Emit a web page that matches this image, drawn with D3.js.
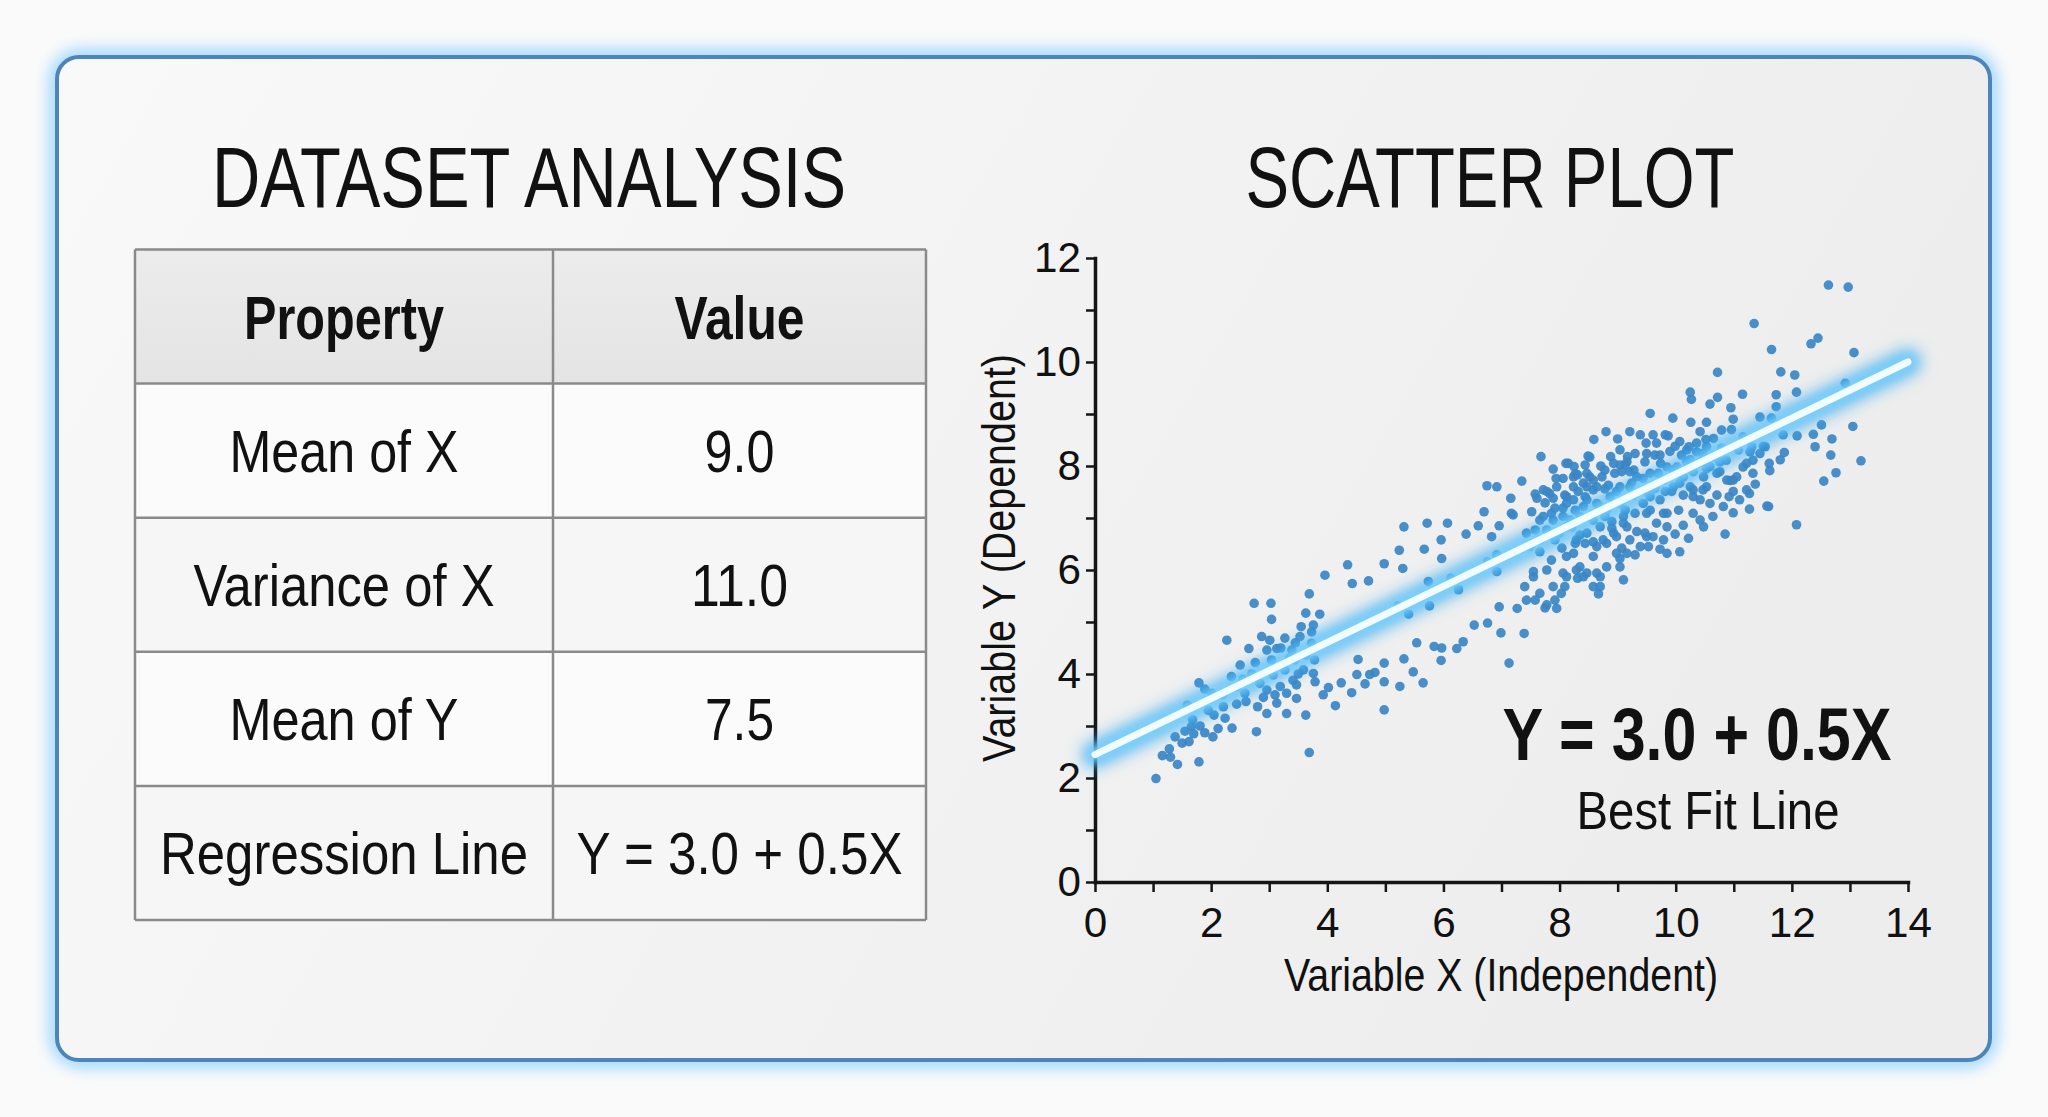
<!DOCTYPE html>
<html>
<head>
<meta charset="utf-8">
<script src="https://cdn.jsdelivr.net/npm/d3@7/dist/d3.min.js"></script>
<style>
  body { margin: 0; background: #fafafa; }
  svg { display: block; }
</style>
</head>
<body>
<div id="chart"></div>
<script>
// table content
var tableHeader = ["Property", "Value"];
var tableProps = ["Mean of X", "Variance of X", "Mean of Y", "Regression Line"];
var tableValues = ["9.0", "11.0", "7.5", "Y = 3.0 + 0.5X"];

// axis ticks
var xTickLabels = [0, 2, 4, 6, 8, 10, 12, 14];
var yTickLabels = [0, 2, 4, 6, 8, 10, 12];

// best fit line as drawn (x, y at both ends)
var fitLine = [[0, 2.45], [14, 10.0]];
var equationText = "Y = 3.0 + 0.5X";
var fitLabel = "Best Fit Line";

// scatter points [x, y]
var points = [
  [1.05,1.99],[1.16,2.43],[1.28,2.56],[1.42,2.26],[1.38,2.79],[1.50,2.67],[1.79,2.31],[1.68,3.12],[1.59,3.40],[1.79,3.83],
  [1.89,3.71],[1.66,2.99],[1.81,3.00],[1.89,2.87],[2.03,2.79],[2.05,3.21],[2.01,3.63],[2.21,3.37],[2.24,3.15],[2.36,2.96],
  [2.27,4.65],[2.35,3.95],[2.44,3.42],[2.50,4.17],[2.58,3.63],[2.60,3.47],[2.65,4.49],[2.76,4.22],[2.74,5.36],[2.78,2.89],
  [2.80,3.37],[2.84,3.82],[2.87,4.72],[2.96,4.46],[2.96,3.24],[2.96,3.69],[3.03,5.36],[3.04,5.05],[3.01,4.65],[3.04,4.27],
  [3.07,3.98],[3.13,3.44],[3.13,4.49],[3.19,3.76],[3.27,4.69],[3.27,4.08],[3.30,3.63],[3.30,3.24],[3.39,4.46],[3.41,3.88],
  [3.44,4.27],[3.47,3.53],[3.47,3.79],[3.53,4.72],[3.55,4.91],[3.59,4.08],[3.63,5.17],[3.63,3.21],[3.63,4.36],[3.69,5.54],
  [3.69,2.49],[3.73,4.59],[3.73,4.81],[3.76,4.94],[3.76,4.01],[3.79,3.85],[3.87,5.15],[3.78,4.27],[3.96,5.90],[3.93,3.60],
  [4.02,3.74],[4.14,3.39],[4.24,3.83],[4.35,6.10],[4.43,5.74],[4.42,3.64],[4.53,4.28],[4.51,3.99],[4.65,3.81],[4.71,5.79],
  [4.82,4.03],[4.98,6.12],[4.98,4.21],[4.98,3.85],[4.98,3.31],[2.55,3.90],[2.70,4.00],[3.35,4.30],[3.20,4.50],[3.50,4.00],
  [3.45,4.60],[3.65,4.40],[3.10,3.60],[2.45,3.75],[2.20,3.60],[1.95,3.30],[1.70,2.85],[1.55,2.90],[2.90,3.55],[1.62,2.70],
  [2.12,2.95],[1.30,2.40],[4.73,3.99],
  [5.32,6.83],[5.24,6.38],[5.30,6.03],[5.72,6.90],[5.67,6.40],[5.74,5.78],[5.76,5.31],[5.40,5.15],[5.22,5.31],[5.96,6.58],
  [5.97,6.22],[6.07,6.90],[6.13,5.84],[6.26,5.62],[6.39,6.69],[6.60,6.85],[6.70,7.12],[6.75,7.62],[6.92,7.60],[6.83,6.64],
  [6.92,6.29],[6.92,5.97],[6.76,6.16],[6.96,6.85],[7.16,7.38],[7.20,7.06],[7.35,7.71],[6.96,5.29],[6.53,4.94],[6.76,4.98],
  [6.99,4.79],[7.39,4.78],[7.13,4.21],[7.27,5.26],[5.54,4.60],[5.84,4.53],[5.96,4.26],[6.23,4.49],[6.34,4.62],[5.32,4.29],
  [5.48,4.04],[5.65,3.83],[5.25,3.76],[5.97,4.50],
  [10.72,9.80],[10.25,9.42],[10.27,9.28],[11.15,9.38],[10.72,9.32],[10.59,9.19],[10.95,9.12],[9.56,9.01],[9.95,8.92],[10.26,8.84],
  [10.53,8.84],[10.99,8.90],[10.79,8.69],[11.45,8.94],[8.80,8.66],[9.21,8.66],[8.59,8.51],[9.00,8.52],[9.39,8.60],[9.61,8.60],
  [9.87,8.58],[10.42,8.66],[10.65,8.53],[11.16,8.56],[7.68,8.18],[7.89,7.94],[8.15,8.05],[8.52,8.17],[8.71,8.00],[8.88,8.18],
  [9.04,8.31],[9.30,8.24],[9.49,8.44],[9.67,8.44],[9.73,8.21],[9.99,8.38],[10.19,8.31],[10.36,8.44],[10.79,8.34],[11.28,8.27],
  [11.51,8.38],[7.58,7.46],[7.75,7.29],[7.95,7.60],[8.06,7.76],[8.24,7.79],[8.47,7.86],[8.73,7.79],[8.64,7.60],[8.95,7.86],
  [9.04,8.02],[9.21,7.89],[9.33,7.79],[9.47,8.08],[9.70,7.86],[9.85,7.98],[10.02,7.98],[10.19,8.08],[10.30,7.89],[10.53,7.95],
  [10.76,7.89],[10.99,7.73],[10.99,7.51],[10.92,7.41],[10.71,7.44],[10.47,7.54],[10.25,7.60],[10.07,7.67],[9.93,7.51],[9.64,7.57],
  [11.37,7.65],[11.27,7.17],[11.57,7.23],[10.99,7.10],[10.59,7.28],[10.30,7.41],[7.52,7.12],[7.66,6.96],[7.86,7.09],[8.06,7.19],
  [8.24,7.35],[8.44,7.41],[8.41,7.22],[8.64,7.28],[8.87,7.41],[9.04,7.28],[9.27,7.44],[9.44,7.28],[7.43,6.71],[7.58,6.77],
  [7.78,6.77],[7.92,6.58],[8.12,6.83],[8.18,6.96],[8.35,7.03],[8.55,7.03],[8.70,6.83],[8.90,6.93],[9.10,7.03],[9.30,7.09],
  [9.50,7.09],[9.67,6.90],[9.85,7.09],[10.05,7.15],[10.42,6.96],[10.48,6.83],[10.22,6.61],[9.99,6.69],[9.79,6.58],[9.73,6.40],
  [10.07,6.35],[10.85,6.69],[7.49,6.45],[7.66,6.35],[7.86,6.19],[8.04,6.42],[8.24,6.32],[8.44,6.51],[8.58,6.26],[8.81,6.51],
  [8.98,6.32],[9.21,6.58],[9.30,6.29],[9.47,6.71],[9.53,6.45],[9.04,6.06],[8.81,6.06],[8.64,5.94],[8.47,5.94],[8.29,6.00],
  [8.06,5.94],[7.78,6.00],[7.55,5.87],[8.70,5.68],[9.10,5.81],[7.40,5.68],[7.55,5.97],[7.66,5.55],[7.58,5.42],[7.43,5.42],
  [7.78,5.33],[7.92,5.42],[7.89,5.68],[8.09,5.68],[7.95,5.26],[8.03,5.55],[8.12,5.87],[8.35,6.06],[8.41,5.87],[8.58,5.68],
  [8.70,5.87],[8.67,5.54],[9.04,6.22],[7.75,5.27],[8.31,5.84],[9.07,6.42],[7.17,7.09],[7.61,7.38],[7.83,7.47],[8.11,8.05],
  [7.94,7.76],[8.27,7.85],[8.49,8.19],[9.50,7.51],[9.21,7.60],[8.98,7.51],[8.78,7.56],[8.47,7.60],[8.32,7.51],[8.12,7.41],
  [7.89,7.38],[7.72,7.54],[8.81,7.15],[9.16,6.83],[9.33,6.74],[9.61,6.64],[9.85,6.83],[10.13,6.86],[10.30,7.09],[10.64,7.03],
  [10.82,7.22],[11.10,7.35],[11.27,7.47],[11.33,7.86],[11.16,7.98],[11.33,8.11],[10.87,8.11],[10.65,8.18],[10.47,8.24],[10.10,8.21],
  [9.50,8.24],[9.16,8.08],[8.78,7.92],[8.58,7.73],[8.47,6.71],[8.29,6.58],[8.00,6.71],[8.75,6.58],[8.93,6.71],[8.64,6.45],
  [8.12,6.26],[7.66,6.58],[9.16,6.32],[9.39,6.45],[9.85,6.32],
  [9.82,8.60],[8.25,7.99],[8.44,8.02],[9.17,8.18],[9.64,8.21],[9.74,8.05],[8.93,8.05],[9.13,8.02],[9.28,7.92],[9.07,7.89],
  [8.52,7.79],[8.31,7.83],[8.24,7.60],[8.41,7.67],[7.78,7.51],[8.09,7.44],[8.58,7.54],[8.84,7.63],[9.04,7.60],[9.24,7.67],
  [9.44,7.76],[9.56,7.86],[7.92,7.19],[8.12,7.28],[8.27,7.15],[8.47,7.35],[8.67,7.25],[7.72,7.03],[7.89,6.96],[8.06,7.03],
  [8.21,6.83],[8.35,6.67],[8.58,6.96],[8.78,7.03],[8.90,6.80],[9.13,7.15],[9.10,6.90],[9.56,7.15],[9.79,7.09],[9.50,6.64],
  [8.98,6.64],[8.58,6.54],[8.27,6.51],[9.73,7.35],[9.56,7.41],[9.82,7.51],
  [10.52,8.51],[10.96,8.70],[10.07,8.47],[10.23,8.37],[10.36,8.27],[10.53,8.37],[11.08,8.31],[11.31,8.37],[11.45,8.24],[11.22,8.05],
  [10.76,8.08],[10.59,7.99],[10.42,8.08],[10.25,8.12],[9.90,8.28],[9.96,7.92],[10.13,7.79],[10.48,7.79],[10.71,7.86],[10.88,7.73],
  [11.05,7.79],[11.22,7.54],[10.53,7.60],[10.30,7.54],[10.13,7.44],[9.96,7.60],[9.79,7.73],[10.42,7.35],
  [12.63,11.48],[12.97,11.44],[11.35,10.74],[12.33,10.35],[12.45,10.46],[11.65,10.24],[13.07,10.18],[11.81,9.81],[12.05,9.75],[12.92,9.59],
  [11.73,9.37],[12.08,9.42],[11.73,9.14],[11.65,8.92],[12.51,8.79],[13.05,8.76],[11.85,8.60],[12.09,8.58],[12.37,8.61],[12.69,8.52],
  [12.40,8.37],[11.54,8.37],[11.87,8.26],[11.80,8.12],[11.61,8.05],[11.62,7.91],[12.67,8.21],[13.19,8.10],[12.76,7.87],[12.55,7.71],
  [10.94,7.72],[12.08,6.87],[11.60,7.22]
];

var W = 2048, H = 1117;
var FONT = "'Liberation Sans Narrow','Arial Narrow','Liberation Sans',Arial,sans-serif";

var svg = d3.select("#chart").append("svg")
    .attr("width", W)
    .attr("height", H);

var defs = svg.append("defs");

var cardGrad = defs.append("linearGradient")
    .attr("id", "cardGrad")
    .attr("x1", "0").attr("y1", "0").attr("x2", "1").attr("y2", "0.3");
cardGrad.append("stop").attr("offset", "0%").attr("stop-color", "#f9f9f9");
cardGrad.append("stop").attr("offset", "100%").attr("stop-color", "#ededed");

var headGrad = defs.append("linearGradient")
    .attr("id", "headGrad")
    .attr("x1", "0").attr("y1", "0").attr("x2", "0").attr("y2", "1");
headGrad.append("stop").attr("offset", "0%").attr("stop-color", "#ececec");
headGrad.append("stop").attr("offset", "100%").attr("stop-color", "#e4e4e4");

defs.append("filter").attr("id", "blur8")
    .attr("x", "-20%").attr("y", "-20%").attr("width", "140%").attr("height", "140%")
    .append("feGaussianBlur").attr("stdDeviation", 8);
defs.append("filter").attr("id", "blur5")
    .attr("x", "-20%").attr("y", "-50%").attr("width", "140%").attr("height", "200%")
    .append("feGaussianBlur").attr("stdDeviation", 5);

// card with a soft blue halo
svg.append("rect")
    .attr("x", 57).attr("y", 57).attr("width", 1933).attr("height", 1003)
    .attr("rx", 24)
    .attr("fill", "none")
    .attr("stroke", "#8fd0ff")
    .attr("stroke-width", 14)
    .attr("filter", "url(#blur8)");

svg.append("rect")
    .attr("x", 57).attr("y", 57).attr("width", 1933).attr("height", 1003)
    .attr("rx", 22)
    .attr("fill", "url(#cardGrad)")
    .attr("stroke", "#4d84ba")
    .attr("stroke-width", 4);

// the reference face is a tight condensed sans, so widths are pinned
function squeeze(sel, w) {
    sel.attr("textLength", w).attr("lengthAdjust", "spacingAndGlyphs");
}

// ----- left panel: table -----
svg.append("text")
    .attr("x", 529).attr("y", 207)
    .attr("text-anchor", "middle")
    .style("font-family", FONT).style("font-size", "86px").style("fill", "#111")
    .text("DATASET ANALYSIS")
    .call(squeeze, 634);

var colEdges = [135, 553, 926];
var rowScale = d3.scaleBand()
    .domain(d3.range(tableProps.length + 1))
    .range([249.5, 920]);

var headerW = [200, 130];
var propW = [229, 301, 229, 368];
var valW = [70, 97, 69, 326];

var table = svg.append("g");

table.append("rect")
    .attr("x", colEdges[0]).attr("y", rowScale(0))
    .attr("width", colEdges[2] - colEdges[0]).attr("height", rowScale.bandwidth())
    .attr("fill", "url(#headGrad)");

table.selectAll("rect.body")
    .data(tableProps)
    .join("rect")
    .attr("class", "body")
    .attr("x", colEdges[0])
    .attr("y", function (d, i) { return rowScale(i + 1); })
    .attr("width", colEdges[2] - colEdges[0])
    .attr("height", rowScale.bandwidth())
    .attr("fill", function (d, i) { return i % 2 ? "#f6f6f6" : "#fbfbfb"; });

// grid lines
table.selectAll("line.h")
    .data(d3.range(tableProps.length + 2))
    .join("line")
    .attr("class", "h")
    .attr("x1", colEdges[0]).attr("x2", colEdges[2])
    .attr("y1", function (i) { return i <= tableProps.length ? rowScale(i) : rowScale.range()[1]; })
    .attr("y2", function (i) { return i <= tableProps.length ? rowScale(i) : rowScale.range()[1]; })
    .attr("stroke", "#8a8a8a").attr("stroke-width", 2.5);

table.selectAll("line.v")
    .data(colEdges)
    .join("line")
    .attr("class", "v")
    .attr("x1", function (d) { return d; }).attr("x2", function (d) { return d; })
    .attr("y1", rowScale.range()[0]).attr("y2", rowScale.range()[1])
    .attr("stroke", "#8a8a8a").attr("stroke-width", 2.5);

function colCenter(c) { return (colEdges[c] + colEdges[c + 1]) / 2; }
function rowBase(r) { return rowScale(r) + rowScale.bandwidth() / 2 + 21; }

table.selectAll("text.head")
    .data(tableHeader)
    .join("text")
    .attr("class", "head")
    .attr("x", function (d, i) { return colCenter(i); })
    .attr("y", rowBase(0) + 1)
    .attr("text-anchor", "middle")
    .style("font-family", FONT).style("font-size", "62px").style("font-weight", "bold").style("fill", "#111")
    .text(function (d) { return d; })
    .each(function (d, i) { d3.select(this).call(squeeze, headerW[i]); });

table.selectAll("text.prop")
    .data(tableProps)
    .join("text")
    .attr("class", "prop")
    .attr("x", colCenter(0))
    .attr("y", function (d, i) { return rowBase(i + 1); })
    .attr("text-anchor", "middle")
    .style("font-family", FONT).style("font-size", "60px").style("fill", "#111")
    .text(function (d) { return d; })
    .each(function (d, i) { d3.select(this).call(squeeze, propW[i]); });

table.selectAll("text.val")
    .data(tableValues)
    .join("text")
    .attr("class", "val")
    .attr("x", colCenter(1))
    .attr("y", function (d, i) { return rowBase(i + 1); })
    .attr("text-anchor", "middle")
    .style("font-family", FONT).style("font-size", "60px").style("fill", "#111")
    .text(function (d) { return d; })
    .each(function (d, i) { d3.select(this).call(squeeze, valW[i]); });

// ----- right panel: scatter -----
svg.append("text")
    .attr("x", 1490).attr("y", 207)
    .attr("text-anchor", "middle")
    .style("font-family", FONT).style("font-size", "86px").style("fill", "#111")
    .text("SCATTER PLOT")
    .call(squeeze, 489);

var x = d3.scaleLinear().domain([0, 14]).range([1095, 1908]);
var y = d3.scaleLinear().domain([0, 12]).range([882, 258]);

var xAxis = d3.axisBottom(x)
    .tickValues(d3.range(0, 15))
    .tickFormat(function (d) { return xTickLabels.indexOf(d) >= 0 ? d : ""; })
    .tickSize(10).tickSizeOuter(0).tickPadding(14);

var yAxis = d3.axisLeft(y)
    .tickValues(d3.range(0, 13))
    .tickFormat(function (d) { return yTickLabels.indexOf(d) >= 0 ? d : ""; })
    .tickSize(9).tickSizeOuter(0).tickPadding(5);

var gx = svg.append("g").attr("transform", "translate(0," + y(0) + ")").call(xAxis);
var gy = svg.append("g").attr("transform", "translate(" + x(0) + ",0)").call(yAxis);

[gx, gy].forEach(function (g) {
    g.select(".domain").attr("stroke", "#151515").attr("stroke-width", 3.5).attr("stroke-linecap", "square");
    g.selectAll(".tick line").attr("stroke", "#151515").attr("stroke-width", 2.5);
    g.selectAll(".tick text")
        .style("font-family", FONT).style("font-size", "43px").attr("fill", "#111")
        .each(function () {
            var t = d3.select(this).text();
            if (t) d3.select(this).call(squeeze, t.length * 23.5);
        });
});

svg.append("text")
    .attr("x", 1501).attr("y", 991)
    .attr("text-anchor", "middle")
    .style("font-family", FONT).style("font-size", "46px").style("fill", "#111")
    .text("Variable X (Independent)")
    .call(squeeze, 434);

svg.append("text")
    .attr("transform", "translate(1015,558) rotate(-90)")
    .attr("text-anchor", "middle")
    .style("font-family", FONT).style("font-size", "46px").style("fill", "#111")
    .text("Variable Y (Dependent)")
    .call(squeeze, 408);

// dots
svg.append("g")
    .selectAll("circle")
    .data(points)
    .join("circle")
    .attr("cx", function (d) { return x(d[0]); })
    .attr("cy", function (d) { return y(d[1]); })
    .attr("r", 4.8)
    .attr("fill", "#3a86c6")
    .attr("fill-opacity", 0.92);

// glowing best fit line
var fitPath = d3.line()
    .x(function (d) { return x(d[0]); })
    .y(function (d) { return y(d[1]); });

svg.append("path")
    .datum(fitLine)
    .attr("d", fitPath)
    .attr("stroke", "#2fa8f2")
    .attr("stroke-width", 26)
    .attr("stroke-linecap", "round")
    .attr("stroke-opacity", 0.75)
    .attr("fill", "none")
    .attr("filter", "url(#blur8)");

svg.append("path")
    .datum(fitLine)
    .attr("d", fitPath)
    .attr("stroke", "#7fd4ff")
    .attr("stroke-width", 14)
    .attr("stroke-linecap", "round")
    .attr("fill", "none")
    .attr("filter", "url(#blur5)");

svg.append("path")
    .datum(fitLine)
    .attr("d", fitPath)
    .attr("stroke", "#f2fcff")
    .attr("stroke-width", 7)
    .attr("stroke-linecap", "round")
    .attr("fill", "none");

svg.append("text")
    .attr("x", 1697).attr("y", 760)
    .attr("text-anchor", "middle")
    .style("font-family", FONT).style("font-size", "74px").style("font-weight", "bold").style("fill", "#111")
    .text(equationText)
    .call(squeeze, 389);

svg.append("text")
    .attr("x", 1708).attr("y", 829)
    .attr("text-anchor", "middle")
    .style("font-family", FONT).style("font-size", "54px").style("fill", "#111")
    .text(fitLabel)
    .call(squeeze, 263);
</script>
</body>
</html>
